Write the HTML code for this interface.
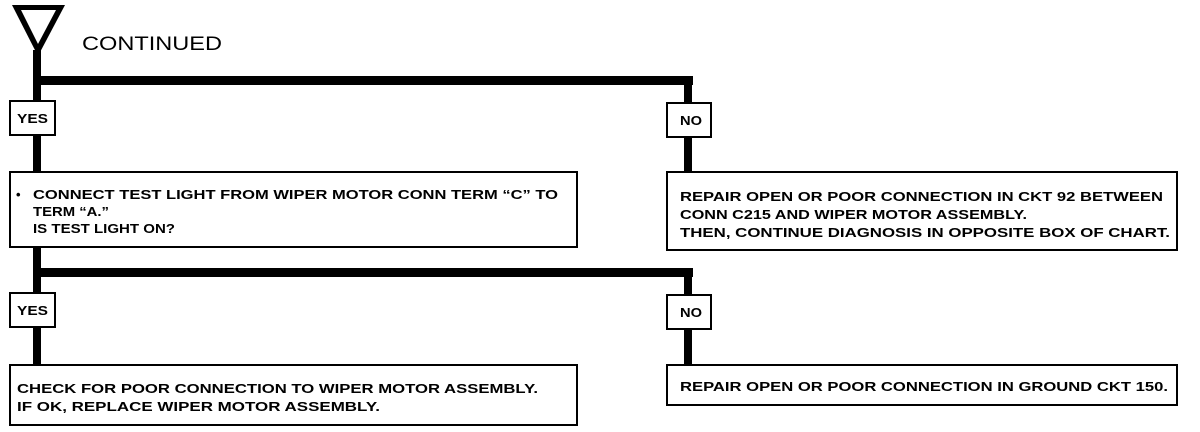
<!DOCTYPE html>
<html><head><style>
html,body{margin:0;padding:0;background:#fff;}
svg{display:block;}
.t{font-family:"Liberation Sans",Arial,sans-serif;font-weight:bold;font-size:13px;fill:#000;}
</style></head><body>
<svg width="1200" height="432" viewBox="0 0 1200 432" xmlns="http://www.w3.org/2000/svg">
<rect width="1200" height="432" fill="#fff"/>
<polygon points="12,5 65,5 38,56" fill="#000"/>
<polygon points="21,10 56,10 38,44" fill="#fff"/>
<text x="82" y="50" font-family="Liberation Sans,Arial,sans-serif" font-size="19" fill="#000" textLength="140" lengthAdjust="spacingAndGlyphs">CONTINUED</text>
<rect x="33" y="50" width="8" height="316" fill="#000"/>
<rect x="33" y="76" width="660" height="9" fill="#000"/>
<rect x="684" y="76" width="8" height="98" fill="#000"/>
<rect x="33" y="268" width="660" height="9" fill="#000"/>
<rect x="684" y="268" width="8" height="98" fill="#000"/>
<g fill="#fff" stroke="#000" stroke-width="2">
<rect x="10" y="101" width="45" height="34"/>
<rect x="667" y="103" width="44" height="34"/>
<rect x="10" y="172" width="567" height="75"/>
<rect x="667" y="172" width="510" height="78"/>
<rect x="10" y="293" width="45" height="34"/>
<rect x="667" y="295" width="44" height="34"/>
<rect x="10" y="365" width="567" height="60"/>
<rect x="667" y="365" width="510" height="40"/>
</g>
<text class="t" x="17" y="123" textLength="31" lengthAdjust="spacingAndGlyphs">YES</text>
<text class="t" x="680" y="125" textLength="22" lengthAdjust="spacingAndGlyphs">NO</text>
<text class="t" x="17" y="315" textLength="31" lengthAdjust="spacingAndGlyphs">YES</text>
<text class="t" x="680" y="317" textLength="22" lengthAdjust="spacingAndGlyphs">NO</text>
<text class="t" x="16" y="199" font-size="16">•</text>
<text class="t" x="33" y="199" textLength="525" lengthAdjust="spacingAndGlyphs">CONNECT TEST LIGHT FROM WIPER MOTOR CONN TERM “C” TO</text>
<text class="t" x="33" y="216" textLength="76" lengthAdjust="spacingAndGlyphs">TERM “A.”</text>
<text class="t" x="33" y="233" textLength="142" lengthAdjust="spacingAndGlyphs">IS TEST LIGHT ON?</text>
<text class="t" x="680" y="201" textLength="483" lengthAdjust="spacingAndGlyphs">REPAIR OPEN OR POOR CONNECTION IN CKT 92 BETWEEN</text>
<text class="t" x="680" y="219" textLength="347" lengthAdjust="spacingAndGlyphs">CONN C215 AND WIPER MOTOR ASSEMBLY.</text>
<text class="t" x="680" y="237" textLength="490" lengthAdjust="spacingAndGlyphs">THEN, CONTINUE DIAGNOSIS IN OPPOSITE BOX OF CHART.</text>
<text class="t" x="17" y="393" textLength="521" lengthAdjust="spacingAndGlyphs">CHECK FOR POOR CONNECTION TO WIPER MOTOR ASSEMBLY.</text>
<text class="t" x="17" y="411" textLength="363" lengthAdjust="spacingAndGlyphs">IF OK, REPLACE WIPER MOTOR ASSEMBLY.</text>
<text class="t" x="680" y="391" textLength="488" lengthAdjust="spacingAndGlyphs">REPAIR OPEN OR POOR CONNECTION IN GROUND CKT 150.</text>
</svg>
</body></html>
